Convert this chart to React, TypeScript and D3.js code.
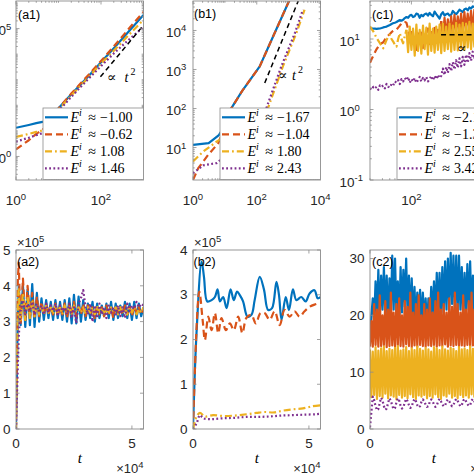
import React from 'react';
import * as d3 from 'd3';

const COLORS = ['#0072BD', '#D95319', '#EDB120', '#7E2F8E'];
const DASHES: (string | undefined)[] = [undefined, '7,4', '7,3,1.8,3', '1.8,2.4'];
const LW = 2.2;
const SANS = "'Liberation Sans', Arial, Helvetica, sans-serif";
const SERIF = "'Liberation Serif', 'DejaVu Serif', 'Times New Roman', serif";
const AXIS = '#8c8c8c';
const TXT = '#262626';

// ---------------- (a1) log-log ----------------
const a1T = [1, 2, 3, 4.5, 7, 10, 20, 50, 100, 200, 500, 1000];
const a1Blue = [13.2, 17, 20, 22.9, 38, 76, 269, 1350, 4790, 17000, 95000, 340000];
const a1Orange = [1.9, 4.3, 7.6, 12, 30, 76, 288, 1510, 5370, 20000, 120000, 450000];
const a1Yellow = [5.8, 7.6, 9.1, 10.7, 24, 68, 240, 1200, 4270, 13500, 68000, 220000];
const a1Purple = [3.8, 5.4, 6.8, 8.5, 19, 60, 214, 1070, 3390, 10700, 43000, 115000];
const a1RefT = [97, 900];
const a1RefV = [1300, 110000];
const a1Legend = ['\u22121.00', '\u22120.62', '1.08', '1.46'];

// ---------------- (b1) log-log ----------------
const b1BlueT = [1, 3.1, 6.5, 11, 16, 35, 124, 323, 1080, 1500];
const b1Blue = [11.7, 12.9, 20.9, 41.7, 102, 282, 1200, 6900, 62000, 126000];
const b1OrangeT = [1, 1.46, 3.0, 6.2, 11, 16, 35, 124, 323, 1080, 1500];
const b1Orange = [1.48, 2.95, 6.5, 12.9, 41.7, 102, 282, 1200, 6900, 62000, 126000];
const b1YellowT = [1, 2.1, 5.5, 20, 80, 225, 660, 1740, 3160];
const b1Yellow = [4.4, 7.9, 14.1, 28, 63, 102, 1200, 8500, 34000];
const b1PurpleT = [1, 2.1, 5.6, 20, 80, 200, 590, 1600, 2800];
const b1Purple = [2.2, 3.5, 4.0, 10, 40, 102, 1200, 8900, 34000];
const b1RefT = [178, 2500];
const b1RefV = [451, 89000];
const b1Legend = ['\u22121.67', '\u22121.04', '1.80', '2.43'];

// ---------------- (c1) log-log (samples on a log-spaced time grid) ----------------
const c1Blue = [14.3, 14.2, 14.0, 14.0, 13.9, 14.0, 14.1, 14.3, 14.6, 14.8,
  15.0, 15.4, 15.8, 16.3, 16.8, 17.0, 17.4, 18.0, 18.6, 18.2,
  18.7, 19.8, 20.5, 20.0, 21.5, 22.0, 20.5, 21.0, 23.0, 22.5,
  20.0, 22.0, 21.0, 22.5, 23.0, 21.5, 23.5, 22.0, 21.0, 24.5,
  22.5, 21.0, 19.5, 22.5, 24.0, 21.5, 22.5, 23.0, 21.5, 22.0,
  25.0, 23.5, 22.5, 24.0, 26.0, 25.0, 24.0, 26.5, 27.0, 25.5,
  28.0, 27.0, 29.0, 28.5, 30.0];
const c1Orange = [4.6, 5.2, 5.8, 6.5, 7.2, 7.8, 8.3, 8.7, 9.0, 9.8,
  10.5, 11.2, 11.8, 12.5, 13.0, 13.3, 13.6, 14.5, 15.5, 16.5,
  17.0, 17.5, 17.0,
  14.0, 9.5, 12.5, 8.0, 11.0, 7.0, 12.0, 8.5, 13.0, 7.5,
  11.5, 9.0, 14.0, 8.0, 12.5, 10.0, 15.0, 9.0, 13.5, 11.0,
  18, 10.5, 20, 11, 19, 12, 21, 11, 22, 12.5,
  21, 13, 23, 12, 24, 13.5, 23, 14, 25, 13, 26, 14];
const c1Yellow = [15.1, 13.8, 12.8, 11.5, 10.3, 9.5, 8.7, 8.0, 7.4, 8.5,
  9.7, 10.8, 11.5, 10.0, 9.2, 8.3, 7.8, 10.0, 12.1, 10.0,
  8.7, 11.0, 13.5,
  6.5, 15, 7.0, 14, 5.8, 16, 6.8, 13.5, 6.2, 15.5,
  7.2, 14.5, 6.0, 16.5, 6.8, 14.0, 6.4, 15.0, 7.0, 16.0,
  6.3, 16.5, 6.8, 15.0, 7.2, 16.5, 6.6, 15.5, 7.0, 17.0,
  6.9, 16.0, 7.4, 17.0, 7.0, 16.5, 7.6, 17.5, 7.2, 16.5,
  7.8, 17.0];
const c1Purple = [2.0, 1.9, 2.1, 2.0, 2.1, 1.9, 2.2, 2.1, 2.2, 2.0,
  2.3, 2.1, 2.05, 2.3, 2.2, 2.5, 2.4, 2.6, 2.3, 2.7,
  2.5, 2.8, 2.6, 2.9, 2.4, 2.7, 2.5, 2.8, 2.4, 2.6,
  2.9, 2.5, 2.8, 2.6, 2.9, 2.5, 2.7, 3.0, 2.6, 3.0,
  2.7, 3.1, 2.8,
  3.0, 3.8, 3.1, 4.0, 3.3, 4.4, 3.5, 4.7, 3.7, 5.0,
  3.9, 5.3, 4.1, 5.6, 4.3, 6.0, 4.6, 6.3, 4.9, 6.6,
  5.2, 6.8];
const c1RefT = [520, 12000];
const c1RefV = [11.5, 11.5];
const c1Legend = ['\u22122.10', '\u22121.35', '2.55', '3.42'];

// ---------------- (a2) linear, values in units of 1e5 ----------------
const a2T = [0, 400, 800, 1200, 1600, ...d3.range(2000, 55001, 1000)];
const a2Blue = [0, 1.6, 3.2, 4.0, 3.5,
  2.9, 4.0, 2.85, 3.9, 2.9, 4.05, 2.85, 3.8, 3.0, 3.65,
  3.05, 3.6, 3.1, 3.55, 3.05, 3.6, 3.1, 3.55, 3.05, 3.6,
  3.0, 3.65, 2.95, 3.75, 2.95, 3.7, 3.0, 3.6, 3.05, 3.5,
  3.1, 3.55, 3.0, 3.5, 3.1, 3.45, 3.15, 3.5, 3.1, 3.55,
  3.05, 3.5, 3.1, 3.45, 3.15, 3.55, 3.1, 3.5, 3.05, 3.55,
  3.1, 3.5, 3.15, 3.4];
const a2Orange = [0, 2.2, 4.2, 4.64, 3.6,
  2.9, 4.2, 3.0, 4.0, 3.1, 3.8, 3.1, 3.7, 3.15, 3.55,
  3.2, 3.5, 3.2, 3.45, 3.2, 3.5, 3.15, 3.45, 3.2, 3.5,
  3.1, 3.45, 3.2, 3.55, 3.15, 3.4, 3.2, 3.5, 3.15, 3.45,
  3.2, 3.4, 3.1, 3.45, 3.2, 3.4, 3.15, 3.45, 3.2, 3.4,
  3.1, 3.45, 3.25, 3.4, 3.2, 3.45, 3.2, 3.4, 3.15, 3.45,
  3.25, 3.4, 3.2, 3.35];
const a2Yellow = [0, 1.9, 3.6, 3.9, 3.2,
  3.0, 3.8, 3.05, 3.7, 3.1, 3.6, 3.15, 3.5, 3.2, 3.45,
  3.2, 3.45, 3.25, 3.4, 3.2, 3.45, 3.25, 3.4, 3.2, 3.45,
  3.25, 3.4, 3.2, 3.45, 3.25, 3.4, 3.25, 3.4, 3.2, 3.4,
  3.25, 3.4, 3.2, 3.45, 3.25, 3.4, 3.25, 3.35, 3.2, 3.4,
  3.25, 3.4, 3.2, 3.4, 3.25, 3.35, 3.2, 3.4, 3.25, 3.4,
  3.2, 3.35, 3.25, 3.4];
const a2Purple = [0, 0.9, 1.8, 2.6, 3.0,
  3.3, 3.6, 3.2, 3.5, 3.3, 3.55, 3.2, 3.5, 3.25, 3.45,
  3.2, 3.5, 3.25, 3.45, 3.3, 3.5, 3.2, 3.45, 3.3, 3.4,
  3.2, 3.5, 3.1, 3.4, 2.96, 3.5, 3.65, 3.88, 3.4, 3.2,
  3.5, 3.0, 3.45, 3.1, 3.5, 3.2, 3.4, 3.1, 3.45, 3.25,
  3.4, 3.2, 3.45, 3.15, 3.4, 3.1, 3.5, 3.3, 3.45, 3.35,
  3.55, 3.4, 3.5, 3.45];

// ---------------- (b2) linear, values in units of 1e5 ----------------
const b2BlueT = [0, 1580, 3720, 4730, 6160, 8020, 9450, 10600, 11600, 13000,
  14500, 16200, 17600, 19000, 20200, 21600, 23500, 25200, 26600, 28800,
  30600, 32400, 34100, 36000, 37100, 38200, 40000, 41400, 43100, 44600,
  46700, 48600, 50300, 52400, 53800, 55000];
const b2Blue = [0, 2.21, 3.74, 3.40, 2.85, 2.88, 2.95, 3.12, 2.85, 2.95,
  2.70, 3.12, 2.88, 3.07, 2.99, 2.85, 2.51, 2.55, 2.88, 3.40,
  3.12, 2.66, 2.70, 3.29, 2.99, 2.44, 2.95, 2.66, 3.12, 2.88,
  2.95, 2.85, 3.03, 3.10, 2.92, 2.95];
const b2OrangeT = [0, 2700, 4150, 5150, 6600, 8000, 9450, 10900, 12300, 14200,
  15900, 17600, 19500, 21300, 23000, 25200, 27100, 29100, 30900, 33100,
  35200, 37400, 39500, 41700, 43800, 46000, 48100, 50300, 52400, 54600, 55000];
const b2Orange = [0, 3.07, 2.44, 1.99, 2.51, 2.21, 2.59, 2.14, 2.48, 2.21,
  2.36, 2.21, 2.51, 2.14, 2.48, 2.55, 2.36, 2.59, 2.59, 2.44,
  2.63, 2.32, 2.66, 2.51, 2.63, 2.51, 2.63, 2.73, 2.78, 2.81, 2.80];
const b2YellowT = [0, 1580, 3000, 5150, 8700, 13000, 18000, 23000, 27400, 31000, 35000, 38800, 43100, 47400, 51700, 55000];
const b2Yellow = [0, 0.28, 0.36, 0.28, 0.31, 0.29, 0.30, 0.33, 0.36, 0.38, 0.37, 0.41, 0.44, 0.46, 0.51, 0.53];
const b2PurpleT = [0, 1580, 3000, 4400, 8000, 13000, 18000, 23000, 28000, 33000, 38000, 43000, 48000, 53000, 55000];
const b2Purple = [0, 0.13, 0.31, 0.24, 0.22, 0.24, 0.25, 0.27, 0.27, 0.28, 0.30, 0.31, 0.32, 0.33, 0.34];

// ---------------- (c2) linear (samples every 600 time units) ----------------
const c2Blue = [15, 20, 23, 19, 26, 20, 28, 19.5, 27, 21,
  28.5, 20, 27, 19, 26.5, 20.5, 30.5, 21, 30, 20,
  26, 19, 28.5, 20.5, 28, 21.5, 30, 20, 27, 19.5,
  26.5, 19, 25, 18.5, 24, 19.5, 24.5, 18.5, 24, 19,
  23, 18, 23, 19, 25, 19.5, 26, 20, 27.5, 20.5,
  27.5, 19.5, 28.5, 20.5, 29.5, 21, 30, 21.5, 31, 22,
  30.5, 21, 30.5, 20.5, 30.5, 21, 28.5, 20, 27.5, 20.5,
  29, 21, 29.5, 20.5, 27, 20, 27, 19.5, 27, 20];
const c2Orange = [14.5, 19, 14.5, 22, 14.8, 21, 14.5, 23.5, 14.6, 20,
  14.8, 22.5, 14.4, 21, 14.6, 24, 14.7, 20.5, 14.5, 22,
  14.8, 23, 14.6, 20, 14.5, 22.5, 14.9, 21.5, 14.6, 24,
  14.4, 20.5, 14.7, 22, 14.5, 23.5, 14.8, 20, 14.6, 22,
  14.5, 21, 14.7, 23, 14.6, 20.5, 14.8, 22.5, 14.5, 24,
  14.7, 21, 14.6, 22, 14.9, 20.5, 14.5, 23, 14.7, 21.5,
  14.6, 24, 14.8, 22, 14.5, 20.5, 14.7, 23.5, 14.6, 21,
  14.8, 22.5, 14.5, 24, 14.7, 21, 14.6, 22, 14.8, 21.5];
const c2Yellow = [14.0, 5.6, 13.6, 6.0, 14.4, 5.3, 13.8, 5.8, 14.2, 5.5,
  14.5, 6.2, 13.7, 5.4, 14.1, 5.9, 13.9, 5.7, 14.3, 5.2,
  14.6, 6.0, 13.8, 5.5, 14.0, 5.8, 14.4, 5.4, 13.7, 6.1,
  14.2, 5.6, 13.9, 5.3, 14.5, 5.9, 14.1, 5.7, 13.8, 6.0,
  14.3, 5.4, 14.0, 5.8, 13.6, 5.5, 14.4, 6.1, 14.2, 5.6,
  13.9, 5.3, 14.5, 5.9, 14.0, 5.7, 13.8, 6.2, 14.3, 5.5,
  14.1, 5.8, 13.7, 5.4, 14.4, 6.0, 14.0, 5.6, 14.2, 5.9,
  13.9, 5.5, 14.5, 6.1, 14.1, 5.7, 13.8, 5.4, 14.3, 5.8];
const c2Purple = [0.3, 3.0, 5.7, 5.1, 4.0, 3.3, 3.5, 4.6, 5.5, 5.0,
  4.0, 3.4, 3.6, 4.6, 5.4, 5.0, 4.1, 3.5, 3.7, 4.7,
  5.4, 5.0, 4.1, 3.6, 3.8, 4.7, 5.3, 4.9, 4.2, 3.7,
  3.9, 4.8, 5.3, 4.9, 4.2, 3.8, 4.0, 4.8, 5.2, 4.9,
  4.3, 3.9, 4.0, 4.8, 5.2, 4.9, 4.3, 3.9, 4.1, 4.9,
  5.3, 4.9, 4.3, 4.0, 4.1, 4.9, 5.2, 4.9, 4.3, 4.0,
  4.2, 4.9, 5.3, 5.0, 4.4, 4.0, 4.2, 5.0, 5.3, 4.9,
  4.4, 4.1, 4.2, 5.0, 5.3, 4.9, 4.4, 4.1, 4.2, 5.0];

// ---------------- layout ----------------
const COLS = [16, 193, 370];
const PW = 127.5;
const TOP = 1;
const BOT = 250;
const PH = 179;

const c1T = c1Blue.map((_, i) => 10 * Math.pow(10, i * 0.04));
const c2T = c2Blue.map((_, i) => i * 600);

// where densely oscillating parts start (drawn as merged solid bands)
type LineSpec = { t: number[]; v: number[]; k: number; curve?: d3.CurveFactory; solidFrom?: number };

function logMinor(lo: number, hi: number, majors: number[]) {
  const out: number[] = [];
  for (let e = Math.floor(Math.log10(lo)); e <= Math.ceil(Math.log10(hi)); e++) {
    for (let m = 1; m <= 9; m++) {
      const v = m * Math.pow(10, e);
      if (v >= lo * 0.999 && v <= hi * 1.001 && !majors.some((M) => Math.abs(M - v) / v < 1e-6)) out.push(v);
    }
  }
  return out;
}

function tickPath(x0: number, y0: number, xs: any, ys: any, xMaj: number[], xMin: number[], yMaj: number[], yMin: number[]) {
  const L = 3.5;
  const l = 1.8;
  let d = '';
  const xt = (vals: number[], len: number) => {
    vals.forEach((v) => {
      const x = xs(v);
      d += `M${x},${y0 + PH}V${y0 + PH - len}M${x},${y0}V${y0 + len}`;
    });
  };
  const yt = (vals: number[], len: number) => {
    vals.forEach((v) => {
      const y = ys(v);
      d += `M${x0},${y}H${x0 + len}M${x0 + PW},${y}H${x0 + PW - len}`;
    });
  };
  xt(xMaj, L);
  xt(xMin, l);
  yt(yMaj, L);
  yt(yMin, l);
  return d;
}

function Lines({ id, x0, y0, xs, ys, lines, refT, refV }: any) {
  const gen = (t: number[], v: number[], curve?: d3.CurveFactory) =>
    d3
      .line<number>()
      .x((_, i) => xs(t[i]))
      .y((d) => ys(d))
      .curve(curve || d3.curveLinear)(v) || '';
  return (
    <g>
      <defs>
        <clipPath id={id}>
          <rect x={x0} y={y0} width={PW} height={PH} />
        </clipPath>
      </defs>
      <g clipPath={`url(#${id})`}>
        {lines.map((s: LineSpec, j: number) => {
          const sf = s.solidFrom;
          if (sf === undefined) {
            return (
              <path key={j} d={gen(s.t, s.v, s.curve)} fill="none" stroke={COLORS[s.k]} strokeWidth={LW} strokeDasharray={DASHES[s.k]} strokeLinejoin="round" />
            );
          }
          return (
            <g key={j}>
              {sf > 0 && (
                <path
                  d={gen(s.t.slice(0, sf + 1), s.v.slice(0, sf + 1), s.curve)}
                  fill="none"
                  stroke={COLORS[s.k]}
                  strokeWidth={LW}
                  strokeDasharray={DASHES[s.k]}
                  strokeLinejoin="round"
                />
              )}
              <path d={gen(s.t.slice(sf), s.v.slice(sf), s.curve)} fill="none" stroke={COLORS[s.k]} strokeWidth={LW} strokeLinejoin="round" />
            </g>
          );
        })}
        {refT && (
          <path
            d={d3.line<number>().x((_, i) => xs(refT[i])).y((d) => ys(d))(refV) || ''}
            fill="none"
            stroke="#000"
            strokeWidth={1.5}
            strokeDasharray="5,3.5"
          />
        )}
      </g>
    </g>
  );
}

function Pow10({ x, y, e, anchor }: any) {
  return (
    <text x={x} y={y} textAnchor={anchor} fontFamily={SANS} fontSize={13.5} fill={TXT}>
      10
      <tspan dy={-5.5} fontSize={9.5}>
        {e}
      </tspan>
    </text>
  );
}

function Legend({ bx0, bx1, labels }: any) {
  const by0 = 108;
  const by1 = 179.5;
  const tx = bx0 + 27.5;
  return (
    <g>
      <rect x={bx0} y={by0} width={bx1 - bx0} height={by1 - by0} fill="#fff" stroke={AXIS} strokeWidth={0.8} />
      {labels.map((lab: string, k: number) => {
        const cy = by0 + 9.3 + k * 17;
        const by = cy + 4.6;
        return (
          <g key={k}>
            <line x1={bx0 + 2} x2={bx0 + 25} y1={cy} y2={cy} stroke={COLORS[k]} strokeWidth={LW} strokeDasharray={DASHES[k]} />
            <text x={tx} y={by} fontFamily={SERIF} fontSize={14} fill="#000">
              <tspan fontStyle="italic">E</tspan>
              <tspan fontStyle="italic" fontSize={10} dy={-5.5}>
                i
              </tspan>
            </text>
            <text x={tx + 21.5} y={by} textAnchor="middle" fontFamily={SERIF} fontSize={14} fill="#000">
              {'\u2248'}
            </text>
            <text x={tx + 29.5} y={by} fontFamily={SERIF} fontSize={14} fill="#000">
              {lab}
            </text>
          </g>
        );
      })}
    </g>
  );
}

function Prop({ x, y, exp, gap }: any) {
  return (
    <g fontFamily={SERIF} fill="#000">
      <text x={x} y={y} fontSize={14}>
        {'\u221D'}
      </text>
      <text x={x + gap} y={y} fontSize={14} fontStyle="italic">
        t
      </text>
      <text x={x + gap + 6} y={y - 7} fontSize={10}>
        {exp}
      </text>
    </g>
  );
}

function PanelLabel({ x, y, s }: any) {
  return (
    <text x={x} y={y} fontFamily={SANS} fontSize={12.5} fill="#000">
      {s}
    </text>
  );
}

export default function App() {
  // ---- scales
  const a1x = d3.scaleLog().domain([1, 1000]).range([COLS[0], COLS[0] + PW]);
  const a1y = d3.scaleLog().domain([0.12, 1.2e6]).range([TOP + PH, TOP]);
  const b1x = d3.scaleLog().domain([1, 1e4]).range([COLS[1], COLS[1] + PW]);
  const b1y = d3.scaleLog().domain([1.47, 5.7e4]).range([TOP + PH, TOP]);
  const c1x = d3.scaleLog().domain([10, 1.2e4]).range([COLS[2], COLS[2] + PW]);
  const c1y = d3.scaleLog().domain([0.1, 34.6]).range([TOP + PH, TOP]);

  const a2x = d3.scaleLinear().domain([0, 55000]).range([COLS[0], COLS[0] + PW]);
  const a2y = d3.scaleLinear().domain([0, 5]).range([BOT + PH, BOT]);
  const b2x = d3.scaleLinear().domain([0, 55000]).range([COLS[1], COLS[1] + PW]);
  const b2y = d3.scaleLinear().domain([0, 4]).range([BOT + PH, BOT]);
  const c2x = d3.scaleLinear().domain([0, 55000]).range([COLS[2], COLS[2] + PW]);
  const c2y = d3.scaleLinear().domain([0, 31.5]).range([BOT + PH, BOT]);

  // ---- tick sets
  const a1xMaj = [1, 100];
  const a1yMaj = [1, 1e5];
  const b1xMaj = [1, 100, 1e4];
  const b1yMaj = [10, 100, 1000, 1e4];
  const c1xMaj = [100];
  const c1yMaj = [0.1, 1, 10];

  const top = [
    { x0: COLS[0], xs: a1x, ys: a1y, xMaj: a1xMaj, yMaj: a1yMaj, xDom: [1, 1000], yDom: [0.12, 1.2e6] },
    { x0: COLS[1], xs: b1x, ys: b1y, xMaj: b1xMaj, yMaj: b1yMaj, xDom: [1, 1e4], yDom: [1.47, 5.7e4] },
    { x0: COLS[2], xs: c1x, ys: c1y, xMaj: c1xMaj, yMaj: c1yMaj, xDom: [10, 1.2e4], yDom: [0.1, 34.6] },
  ];

  const bottom = [
    { x0: COLS[0], xs: a2x, ys: a2y, yMaj: [0, 1, 2, 3, 4, 5], mult: true },
    { x0: COLS[1], xs: b2x, ys: b2y, yMaj: [0, 1, 2, 3, 4], mult: true },
    { x0: COLS[2], xs: c2x, ys: c2y, yMaj: [0, 10, 20, 30], mult: false },
  ];

  return (
    <svg width={474} height={474} style={{ position: 'absolute', left: 0, top: 0, background: '#fff' }}>
      <rect x={0} y={0} width={474} height={474} fill="#fff" />

      {/* ---------- data lines ---------- */}
      <Lines
        id="clipA1"
        x0={COLS[0]}
        y0={TOP}
        xs={a1x}
        ys={a1y}
        refT={a1RefT}
        refV={a1RefV}
        lines={[
          { t: a1T, v: a1Blue, k: 0 },
          { t: a1T, v: a1Orange, k: 1 },
          { t: a1T, v: a1Yellow, k: 2 },
          { t: a1T, v: a1Purple, k: 3 },
        ]}
      />
      <Lines
        id="clipB1"
        x0={COLS[1]}
        y0={TOP}
        xs={b1x}
        ys={b1y}
        refT={b1RefT}
        refV={b1RefV}
        lines={[
          { t: b1BlueT, v: b1Blue, k: 0 },
          { t: b1OrangeT, v: b1Orange, k: 1 },
          { t: b1YellowT, v: b1Yellow, k: 2 },
          { t: b1PurpleT, v: b1Purple, k: 3 },
        ]}
      />
      <Lines
        id="clipC1"
        x0={COLS[2]}
        y0={TOP}
        xs={c1x}
        ys={c1y}
        refT={c1RefT}
        refV={c1RefV}
        lines={[
          { t: c1T, v: c1Blue, k: 0 },
          { t: c1T, v: c1Orange, k: 1, solidFrom: 43 },
          { t: c1T, v: c1Yellow, k: 2, solidFrom: 22 },
          { t: c1T, v: c1Purple, k: 3 },
        ]}
      />
      <Lines
        id="clipA2"
        x0={COLS[0]}
        y0={BOT}
        xs={a2x}
        ys={a2y}
        lines={[
          { t: a2T, v: a2Blue, k: 0 },
          { t: a2T, v: a2Orange, k: 1 },
          { t: a2T, v: a2Yellow, k: 2 },
          { t: a2T, v: a2Purple, k: 3 },
        ]}
      />
      <Lines
        id="clipB2"
        x0={COLS[1]}
        y0={BOT}
        xs={b2x}
        ys={b2y}
        lines={[
          { t: b2BlueT, v: b2Blue, k: 0, curve: d3.curveCatmullRom },
          { t: b2OrangeT, v: b2Orange, k: 1, curve: d3.curveCatmullRom },
          { t: b2YellowT, v: b2Yellow, k: 2, curve: d3.curveCatmullRom },
          { t: b2PurpleT, v: b2Purple, k: 3, curve: d3.curveCatmullRom },
        ]}
      />
      <Lines
        id="clipC2"
        x0={COLS[2]}
        y0={BOT}
        xs={c2x}
        ys={c2y}
        lines={[
          { t: c2T, v: c2Blue, k: 0 },
          { t: c2T, v: c2Orange, k: 1, solidFrom: 0 },
          { t: c2T, v: c2Yellow, k: 2, solidFrom: 0 },
          { t: c2T, v: c2Purple, k: 3 },
        ]}
      />

      {/* ---------- top row axes ---------- */}
      {top.map((p, j) => (
        <g key={'ta' + j}>
          <rect x={p.x0} y={TOP} width={PW} height={PH} fill="none" stroke={AXIS} strokeWidth={0.9} />
          <path
            d={tickPath(
              p.x0,
              TOP,
              p.xs,
              p.ys,
              p.xMaj,
              logMinor(p.xDom[0], p.xDom[1], p.xMaj),
              p.yMaj,
              logMinor(p.yDom[0], p.yDom[1], p.yMaj)
            )}
            stroke={AXIS}
            strokeWidth={0.8}
            fill="none"
          />
          {p.xMaj.map((v) => (
            <Pow10 key={'x' + v} x={p.xs(v)} y={205} e={String(Math.round(Math.log10(v)))} anchor="middle" />
          ))}
        </g>
      ))}
      {a1yMaj.map((v) => (
        <Pow10 key={'a1y' + v} x={-9} y={a1y(v) + 6.5} e={String(Math.round(Math.log10(v)))} anchor="start" />
      ))}
      {b1yMaj.map((v) => (
        <Pow10 key={'b1y' + v} x={166} y={b1y(v) + 6.5} e={String(Math.round(Math.log10(v)))} anchor="start" />
      ))}
      {c1yMaj.map((v) => (
        <Pow10 key={'c1y' + v} x={339.5} y={c1y(v) + 6.5} e={String(Math.round(Math.log10(v)))} anchor="start" />
      ))}

      {/* ---------- bottom row axes ---------- */}
      {bottom.map((p, j) => (
        <g key={'ba' + j}>
          <rect x={p.x0} y={BOT} width={PW} height={PH} fill="none" stroke={AXIS} strokeWidth={0.9} />
          <path d={tickPath(p.x0, BOT, p.xs, p.ys, [0, 50000], [], p.yMaj, [])} stroke={AXIS} strokeWidth={0.8} fill="none" />
          {p.yMaj.map((v) => (
            <text key={'y' + v} x={p.x0 - 5.5} y={p.ys(v) + 4.7} textAnchor="end" fontFamily={SANS} fontSize={13.5} fill={TXT}>
              {v}
            </text>
          ))}
          {[0, 50000].map((v) => (
            <text key={'x' + v} x={p.xs(v)} y={448} textAnchor="middle" fontFamily={SANS} fontSize={13.5} fill={TXT}>
              {v / 10000}
            </text>
          ))}
          {p.mult && (
            <text x={p.x0 + 1} y={247} fontFamily={SANS} fontSize={13} fill={TXT}>
              {'\u00D7'}10
              <tspan dy={-5.5} fontSize={9.5}>
                5
              </tspan>
            </text>
          )}
          <text x={p.x0 + PW} y={473} textAnchor="end" fontFamily={SANS} fontSize={13} fill={TXT}>
            {'\u00D7'}10
            <tspan dy={-5.5} fontSize={9.5}>
              4
            </tspan>
          </text>
          <text x={p.x0 + PW / 2} y={463} textAnchor="middle" fontFamily={SERIF} fontSize={15} fontStyle="italic" fill="#000">
            t
          </text>
        </g>
      ))}

      {/* ---------- annotations ---------- */}
      <Prop x={107} y={82} exp="2" gap={17.5} />
      <Prop x={278} y={79.5} exp="2" gap={14} />
      <Prop x={457} y={52.5} exp="0" gap={20} />

      {/* ---------- legends ---------- */}
      <Legend bx0={43} bx1={COLS[0] + PW} labels={a1Legend} />
      <Legend bx0={220} bx1={COLS[1] + PW} labels={b1Legend} />
      <Legend bx0={397} bx1={COLS[2] + PW} labels={c1Legend} />

      {/* ---------- panel labels ---------- */}
      <PanelLabel x={18} y={19} s="(a1)" />
      <PanelLabel x={194} y={18} s="(b1)" />
      <PanelLabel x={372} y={19} s="(c1)" />
      <PanelLabel x={17} y={266} s="(a2)" />
      <PanelLabel x={193.5} y={266} s="(b2)" />
      <PanelLabel x={372} y={266} s="(c2)" />
    </svg>
  );
}
